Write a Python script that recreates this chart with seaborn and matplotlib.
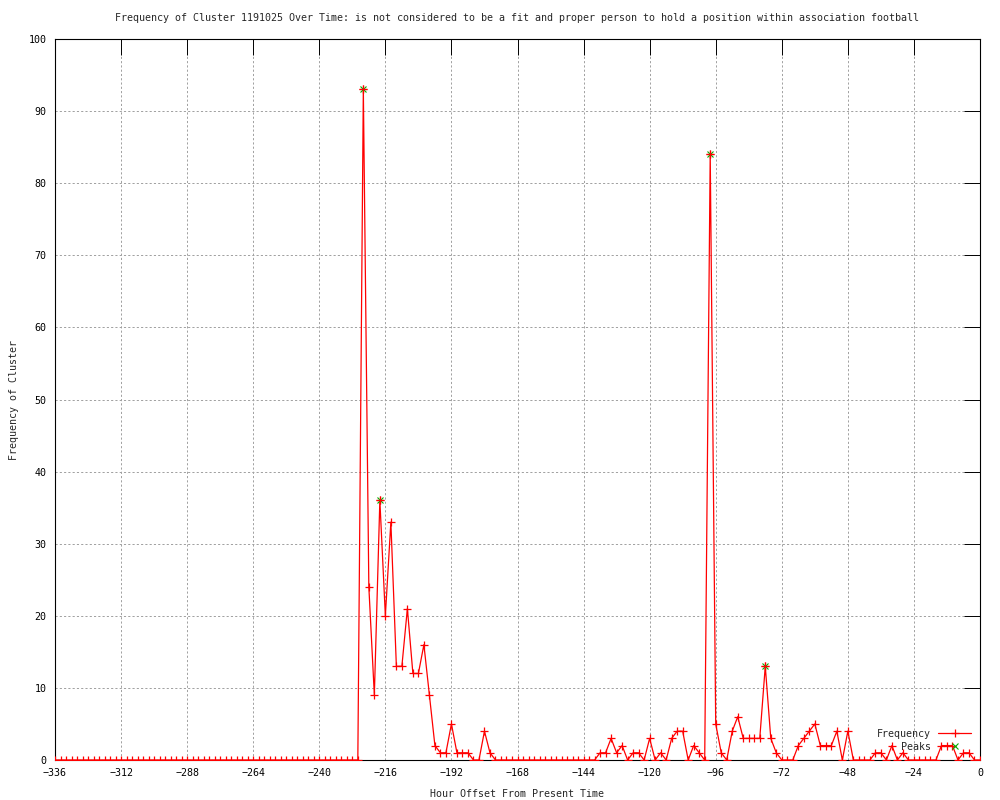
import numpy as np
import pandas as pd
import seaborn as sns
import matplotlib.pyplot as plt
from matplotlib.ticker import MultipleLocator

# hours before now, one sample every 2 hours
hours = list(range(-336, 1, 2))

freq = (
    [0] * 56                                   # -336 .. -226
    + [93, 24, 9, 36, 20, 33, 13, 13, 21, 12,  # -224 .. -206
       12, 16, 9, 2, 1, 1, 5, 1, 1, 1,         # -204 .. -186
       0, 0, 4, 1]                             # -184 .. -178
    + [0] * 19                                 # -176 .. -140
    + [1, 1, 3, 1, 2, 0, 1, 1, 0, 3,           # -138 .. -120
       0, 1, 0, 3, 4, 4, 0, 2, 1, 0,           # -118 .. -100
       84, 5, 1, 0, 4, 6, 3, 3, 3, 3,          # -98 .. -80
       13, 3, 1, 0, 0, 0, 2, 3, 4, 5,          # -78 .. -60
       2, 2, 2, 4, 0, 4, 0, 0, 0, 0,           # -58 .. -40
       1, 1, 0, 2, 0, 1, 0, 0, 0, 0,           # -38 .. -20
       0, 0, 2, 2, 2, 0, 1, 1, 0, 0]           # -18 .. 0
)

peak_hours = [-224, -218, -98, -78]
peak_values = [93, 36, 84, 13]

title = ("Frequency of Cluster 1191025 Over Time: is not considered to be a fit "
         "and proper person to hold a position within association football")

sns.set_style("white")
plt.rcParams["font.family"] = ["DejaVu Sans Mono"]
fs = 7.2

df = pd.DataFrame({"hour": hours, "freq": freq})
peaks = pd.DataFrame({"hour": peak_hours, "freq": peak_values})

fig = plt.figure(figsize=(10, 8), dpi=100)
ax = fig.add_axes([0.055, 0.05, 0.925, 0.90125])

sns.lineplot(data=df, x="hour", y="freq", ax=ax, color="red", linewidth=0.9,
             marker="+", markersize=6, markeredgewidth=0.9,
             markeredgecolor="red", label="Frequency", zorder=3)
sns.lineplot(data=peaks, x="hour", y="freq", ax=ax, linestyle="none",
             marker="x", markersize=5, markeredgewidth=0.8,
             color="#00b000", markeredgecolor="#00b000", label="Peaks",
             zorder=4)
ax.plot(peak_hours, peak_values, linestyle="none", marker="+", markersize=6,
        markeredgewidth=0.9, color="red", zorder=5)

ax.set_xlim(-336, 0)
ax.set_ylim(0, 100)
ax.xaxis.set_major_locator(MultipleLocator(24))
ax.yaxis.set_major_locator(MultipleLocator(10))
ax.grid(True, color="#a0a0a0", linestyle=(0, (2.2, 2.2)), linewidth=0.7)
ax.tick_params(direction="in", length=11.5, width=0.7, top=True, right=True,
               labelsize=fs, colors="black", pad=6)
for s in ax.spines.values():
    s.set_color("black")
    s.set_linewidth(0.8)

ax.set_xlabel("Hour Offset From Present Time", fontsize=fs, labelpad=8)
ax.set_ylabel("Frequency of Cluster", fontsize=fs, labelpad=7)
fig.text(0.517, 0.977, title, fontsize=fs, ha="center", va="center")

ax.legend(loc="lower right", bbox_to_anchor=(0.998, 0.002), frameon=False,
          fontsize=fs, markerfirst=False, handlelength=3.3, labelspacing=0.27,
          borderaxespad=0.3, handletextpad=0.7)

fig.savefig("out.png", dpi=100)
